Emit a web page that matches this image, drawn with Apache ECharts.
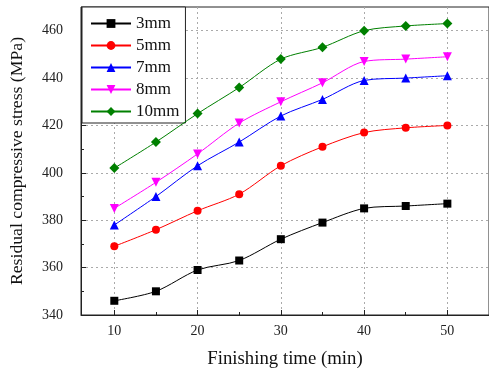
<!DOCTYPE html>
<html>
<head>
<meta charset="utf-8">
<script src="https://cdn.jsdelivr.net/npm/echarts@6/dist/echarts.min.js"></script>
<style>html,body{margin:0;padding:0;background:#fff;}#c{width:489px;height:374px;}</style>
</head>
<body>
<div id="c"></div>
<script>
const times = [10, 15, 20, 25, 30, 35, 40, 45, 50];
const s3mm  = [346, 350, 359, 363, 372, 379, 385, 386, 387];
const s5mm  = [369, 376, 384, 391, 403, 411, 417, 419, 420];
const s7mm  = [378, 390, 403, 413, 424, 431, 439, 440, 441];
const s8mm  = [385, 396, 408, 421, 430, 438, 447, 448, 449];
const s10mm = [402, 413, 425, 436, 448, 453, 460, 462, 463];
const seriesNames = ['3mm', '5mm', '7mm', '8mm', '10mm'];
const xMajorTicks = [10, 20, 30, 40, 50];
const xMinorTicks = [15, 25, 35, 45];
const yMajorTicks = [340, 360, 380, 400, 420, 440, 460];
const yMinorTicks = [350, 370, 390, 410, 430, 450];

const font = 'Liberation Serif';
const colors = ['#000000', '#ff0000', '#0000ff', '#ff00ff', '#008000'];
const symbols = ['rect', 'circle', 'triangle', 'triangle', 'diamond'];
const symbolSizes = [8, 8, 9, 9, 10];
const allData = [s3mm, s5mm, s7mm, s8mm, s10mm];

const chart = echarts.init(document.getElementById('c'));

const xBase = { type: 'value', min: 6, max: 55, position: 'bottom' };
const yBase = { type: 'value', min: 340, max: 470, position: 'left' };

const option = {
  animation: false,
  backgroundColor: '#fff',
  grid: {
    left: 81, right: -3, top: 7, bottom: 58,
    show: true, borderColor: '#222', borderWidth: 1, backgroundColor: 'transparent'
  },
  legend: {
    orient: 'vertical', left: 82, top: 7,
    data: seriesNames.map((n, i) => ({ name: n, itemStyle: { color: colors[i] } })),
    backgroundColor: '#fff', borderColor: '#222', borderWidth: 1, borderRadius: 0,
    padding: [8, 6, 3, 8], itemGap: 5, itemWidth: 40, itemHeight: 11,
    textStyle: { fontFamily: font, fontSize: 17, color: '#111', lineHeight: 17 }
  },
  xAxis: [
    Object.assign({}, xBase, {
      name: 'Finishing time (min)', nameLocation: 'middle', nameGap: 35,
      nameTextStyle: { fontFamily: font, fontSize: 18.8, color: '#111' },
      axisLine: { show: true, lineStyle: { color: '#222', width: 1 } },
      axisTick: { show: true, inside: true, length: 5, customValues: xMajorTicks, lineStyle: { color: '#222' } },
      axisLabel: { show: true, customValues: xMajorTicks, margin: 9, fontFamily: font, fontSize: 14, color: '#222' },
      splitLine: { show: true, lineStyle: { color: '#aaa', type: [2, 3], width: 1 } }
    }),
    Object.assign({}, xBase, {
      axisLine: { show: false },
      axisTick: { show: true, inside: true, length: 3, customValues: xMinorTicks, lineStyle: { color: '#222' } },
      axisLabel: { show: false },
      splitLine: { show: false }
    })
  ],
  yAxis: [
    Object.assign({}, yBase, {
      name: 'Residual compressive stress (MPa)', nameLocation: 'middle', nameGap: 55,
      nameTextStyle: { fontFamily: font, fontSize: 17.7, color: '#111' },
      axisLine: { show: true, lineStyle: { color: '#222', width: 1 } },
      axisTick: { show: true, inside: true, length: 5, customValues: yMajorTicks, lineStyle: { color: '#222' } },
      axisLabel: { show: true, customValues: yMajorTicks, margin: 18, fontFamily: font, fontSize: 14, color: '#222' },
      splitLine: { show: true, lineStyle: { color: '#aaa', type: [2, 3], width: 1 } }
    }),
    Object.assign({}, yBase, {
      axisLine: { show: false },
      axisTick: { show: true, inside: true, length: 3, customValues: yMinorTicks, lineStyle: { color: '#222' } },
      axisLabel: { show: false },
      splitLine: { show: false }
    })
  ],
  series: seriesNames.map((name, i) => ({
    name: name,
    type: 'line',
    xAxisIndex: 0, yAxisIndex: 0,
    data: times.map((t, j) => [t, allData[i][j]]),
    smooth: 0.3,
    symbol: symbols[i],
    symbolRotate: i === 3 ? 180 : 0,
    symbolSize: symbolSizes[i],
    itemStyle: { color: colors[i] },
    lineStyle: { color: colors[i], width: 1 },
    z: 2 + i
  }))
};
chart.setOption(option);
</script>
</body>
</html>
